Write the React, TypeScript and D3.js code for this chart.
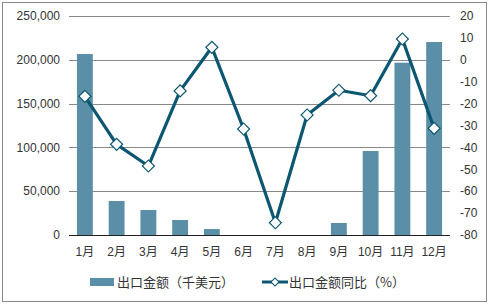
import { useEffect, useRef } from "react";
import * as d3 from "d3";

const months = ["1月", "2月", "3月", "4月", "5月", "6月", "7月", "8月", "9月", "10月", "11月", "12月"];
const exportValue = [206600, 38800, 28500, 17100, 6800, 0, 0, 0, 13700, 95900, 196700, 220300];
const yoyPercent = [-16.7, -38.6, -48.5, -14.2, 5.7, -31.6, -74.4, -25.2, -13.9, -16.4, 9.5, -31.3];
const leftTicks = [0, 50000, 100000, 150000, 200000, 250000];
const rightTicks = [-80, -70, -60, -50, -40, -30, -20, -10, 0, 10, 20];
const barName = "出口金额（千美元）";
const lineName = "出口金额同比（%）";

const W = 497;
const H = 307;
const barColor = "#5b8fa8";
const lineColor = "#0b5670";
const font = "'Liberation Sans', 'Noto Sans CJK SC', sans-serif";
const cjkFont = "'Noto Sans CJK SC', sans-serif";

export default function App() {
  const ref = useRef<SVGSVGElement>(null);

  useEffect(() => {
    const svg = d3.select(ref.current);
    svg.selectAll("*").remove();

    const m = { left: 69, right: 450, top: 16, bottom: 235 };

    const x = d3.scaleBand().domain(months).range([m.left, m.right]).paddingInner(0.5).paddingOuter(0.25);
    const yL = d3.scaleLinear().domain([0, 250000]).range([m.bottom, m.top]);
    const yR = d3.scaleLinear().domain([-80, 20]).range([m.bottom, m.top]);

    svg.append("rect")
      .attr("x", 2.5).attr("y", 2.5)
      .attr("width", 484).attr("height", 299)
      .attr("fill", "white").attr("stroke", "#888");

    // grid
    svg.append("g").selectAll("line").data(leftTicks.slice(1)).join("line")
      .attr("x1", m.left).attr("x2", m.right)
      .attr("y1", (d) => Math.round(yL(d)) + 0.5).attr("y2", (d) => Math.round(yL(d)) + 0.5)
      .attr("stroke", "#888").attr("stroke-width", 1);

    // bars
    svg.append("g").selectAll("rect").data(exportValue).join("rect")
      .attr("x", (_, i) => x(months[i])!)
      .attr("width", x.bandwidth())
      .attr("y", (d) => yL(d))
      .attr("height", (d) => m.bottom - yL(d))
      .attr("fill", barColor);

    // x axis line
    svg.append("line")
      .attr("x1", m.left).attr("x2", m.right)
      .attr("y1", m.bottom + 0.5).attr("y2", m.bottom + 0.5)
      .attr("stroke", "#222");

    // left labels
    svg.append("g").selectAll("text").data(leftTicks).join("text")
      .attr("x", 60).attr("y", (d) => yL(d)).attr("dy", "0.35em")
      .attr("text-anchor", "end").attr("font-size", 12).attr("font-family", font).attr("fill", "#333")
      .text((d) => d3.format(",")(d));

    // right labels
    svg.append("g").selectAll("text").data(rightTicks).join("text")
      .attr("x", 460).attr("y", (d) => yR(d)).attr("dy", "0.35em")
      .attr("text-anchor", "start").attr("font-size", 12).attr("font-family", font).attr("fill", "#333")
      .text((d) => String(d));

    // x labels
    svg.append("g").selectAll("text").data(months).join("text")
      .attr("x", (d) => x(d)! + x.bandwidth() / 2).attr("y", 252).attr("dy", "0.35em")
      .attr("text-anchor", "middle").attr("font-size", 12).attr("font-family", font).attr("fill", "#333")
      .text((d) => d);

    // line
    const cx = (i: number) => x(months[i])! + x.bandwidth() / 2;
    const line = d3.line<number>().x((_, i) => cx(i)).y((d) => yR(d));
    svg.append("path").datum(yoyPercent)
      .attr("fill", "none").attr("stroke", lineColor).attr("stroke-width", 3.2)
      .attr("stroke-linejoin", "round").attr("d", line);

    svg.append("g").selectAll("path").data(yoyPercent).join("path")
      .attr("transform", (d, i) => `translate(${cx(i)},${yR(d)}) rotate(45)`)
      .attr("d", d3.symbol().type(d3.symbolSquare).size(72)())
      .attr("fill", "white").attr("stroke", lineColor).attr("stroke-width", 1.2);

    // legend
    const ly = 282;
    svg.append("rect").attr("x", 90).attr("y", ly - 4).attr("width", 24).attr("height", 8).attr("fill", barColor);
    svg.append("text").attr("x", 117).attr("y", ly).attr("dy", "0.35em")
      .attr("font-size", 13).attr("font-family", cjkFont).attr("fill", "#333").text(barName);
    svg.append("line").attr("x1", 262).attr("x2", 288).attr("y1", ly).attr("y2", ly)
      .attr("stroke", lineColor).attr("stroke-width", 3);
    svg.append("path").attr("transform", `translate(275,${ly}) rotate(45)`)
      .attr("d", d3.symbol().type(d3.symbolSquare).size(32)())
      .attr("fill", "white").attr("stroke", lineColor).attr("stroke-width", 1);
    svg.append("text").attr("x", 289).attr("y", ly).attr("dy", "0.35em")
      .attr("font-size", 13).attr("font-family", cjkFont).attr("fill", "#333").text(lineName);
  }, []);

  return (
    <svg ref={ref} width={W} height={H}
      style={{ position: "absolute", left: 0, top: 0, background: "white" }} />
  );
}
